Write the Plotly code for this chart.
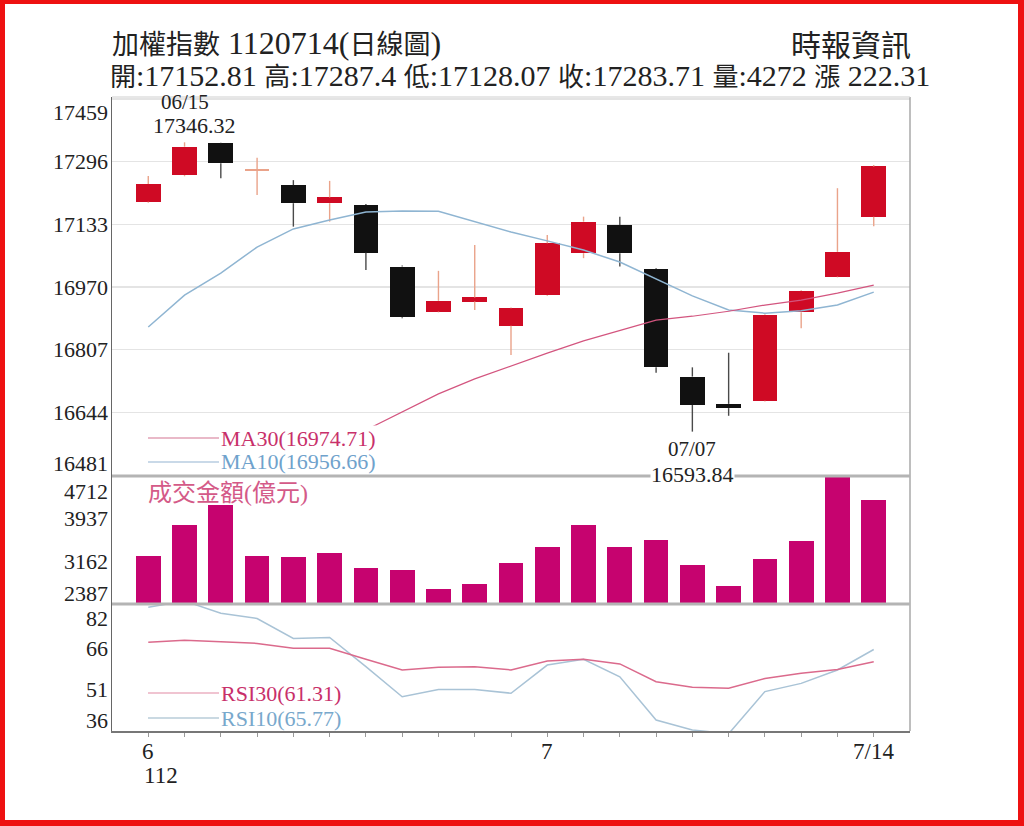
import plotly.graph_objects as go

# ---------------- data ----------------
dates = ["06/14", "06/15", "06/16", "06/19", "06/20", "06/21", "06/26", "06/27", "06/28", "06/29",
         "06/30", "07/03", "07/04", "07/05", "07/06", "07/07", "07/10", "07/11", "07/12", "07/13", "07/14"]
open_ = [17192, 17261, 17344, 17273, 17235, 17188, 17183, 17023, 16906, 16932,
         16869, 16949, 17058, 17131, 17017, 16737, 16666, 16674, 16904, 16997, 17152.81]
high = [17259, 17346.32, 17345, 17306, 17248, 17246, 17186, 17026, 17012, 17079,
        16917, 17105, 17153, 17153, 17019, 16761, 16799, 16899, 16962, 17227, 17287.4]
low = [17189, 17258, 17253, 17209, 17127, 17140, 17014, 16889, 16904, 16910,
       16793, 16947, 17045, 17023, 16747, 16593.84, 16635, 16672, 16863, 16995, 17128.07]
close = [17238, 17335, 17292, 17276, 17188, 17203, 17059, 16891, 16934, 16943,
         16915, 17084, 17140, 17058, 16761, 16663, 16655, 16897, 16960, 17061.40, 17283.71]
ma10 = [16866, 16949, 17006, 17074, 17121, 17144, 17165, 17168, 17167, 17139,
        17113, 17090, 17066, 17035, 16991, 16947, 16910, 16902, 16908, 16923, 16956.66]
ma30 = [None, None, None, None, None, None, 16598, 16645, 16692, 16731,
        16765, 16798, 16830, 16858, 16884, 16894, 16907, 16923, 16936, 16954, 16974.71]
volume = [3259, 3822, 4185, 3259, 3235, 3308, 3035, 2998, 2654, 2745,
          3126, 3428, 3822, 3428, 3549, 3095, 2719, 3199, 3537, 4740, 4272]
rsi30 = [68.4, 69.2, 68.6, 68.0, 66.2, 66.2, 62.2, 58.3, 59.3, 59.5,
         58.3, 61.6, 62.2, 60.5, 54.0, 52.0, 51.6, 55.2, 57.1, 58.5, 61.31]
rsi10 = [81.2, 83.5, 79.0, 77.1, 69.8, 70.2, 59.5, 48.5, 51.2, 51.2,
         49.8, 60.1, 62.2, 55.8, 40.0, 36.4, 35.0, 50.4, 53.4, 58.3, 65.77]

price_ticks = [16481, 16644, 16807, 16970, 17133, 17296, 17459]
vol_ticks = [2387, 3162, 3937, 4712]
rsi_ticks = [36, 51, 66, 82]
x_tick_idx = [0, 11, 20]
x_tick_text = ["6", "7", "7/14"]
year_label = "112"

title_1 = "加權指數 1120714(日線圖)"
title_src = "時報資訊"
title_2 = "開:17152.81 高:17287.4 低:17128.07 收:17283.71 量:4272 漲 222.31"
hi_date, hi_val_text = "06/15", "17346.32"
lo_date, lo_val_text = "07/07", "16593.84"
ma30_label = "MA30(16974.71)"
ma10_label = "MA10(16956.66)"
rsi30_label = "RSI30(61.31)"
rsi10_label = "RSI10(65.77)"
vol_label = "成交金額(億元)"

# ---------------- styling ----------------
W, H = 1024, 826
def fx(p):
    return p / W
def fy(p):
    return 1 - p / H

RED = "#cf0a24"
RED_WICK = "#eaa38a"
BLACK = "#111111"
BLACK_WICK = "#4a4a4a"
MA10_C = "#8fb5d2"
MA30_C = "#d3557f"
VOL_C = "#c6036f"
RSI30_C = "#db6a8c"
RSI10_C = "#a9c3d6"
SERIF = "Liberation Serif, Noto Sans CJK TC, serif"


def mixed(text, cjk_size):
    """Wrap CJK runs in a span with their own font size."""
    out, run, is_cjk = [], "", None
    for ch in text:
        c = ord(ch) > 0x2E80
        if is_cjk is None or c == is_cjk:
            run += ch
        else:
            out.append((is_cjk, run))
            run = ch
        is_cjk = c
    if run:
        out.append((is_cjk, run))
    return "".join(
        f"<span style='font-size:{cjk_size}px'>{r}</span>" if c else r for c, r in out)


n = len(dates)
xs = list(range(n))
up = [c >= o for o, c in zip(open_, close)]

fig = go.Figure()


def wick_xy(cond):
    wx, wy = [], []
    for i in xs:
        if up[i] != cond:
            continue
        top = max(open_[i], close[i])
        bot = min(open_[i], close[i])
        wx += [i, i, None, i, i, None]
        wy += [high[i], top, None, bot, low[i], None]
    return wx, wy


for cond, col in [(True, RED_WICK), (False, BLACK_WICK)]:
    wx, wy = wick_xy(cond)
    fig.add_trace(go.Scatter(x=wx, y=wy, mode="lines", line=dict(color=col, width=1.4),
                             xaxis="x", yaxis="y", hoverinfo="skip"))

body_base = [min(o, c) for o, c in zip(open_, close)]
body_h = [abs(c - o) for o, c in zip(open_, close)]
body_col = [(RED_WICK if body_h[i] < 5 else RED) if up[i] else BLACK for i in xs]
fig.add_trace(go.Bar(x=xs, y=body_h, base=body_base, width=0.68,
                     marker=dict(color=body_col, line=dict(width=0)),
                     xaxis="x", yaxis="y", hoverinfo="skip"))

fig.add_trace(go.Scatter(x=xs, y=ma10, mode="lines", line=dict(color=MA10_C, width=1.5),
                         xaxis="x", yaxis="y", hoverinfo="skip"))
fig.add_trace(go.Scatter(x=xs, y=ma30, mode="lines", line=dict(color=MA30_C, width=1.2),
                         xaxis="x", yaxis="y", hoverinfo="skip"))

fig.add_trace(go.Bar(x=xs, y=volume, width=0.68, marker=dict(color=VOL_C, line=dict(width=0)),
                     xaxis="x2", yaxis="y2", hoverinfo="skip"))

fig.add_trace(go.Scatter(x=xs, y=rsi10, mode="lines", line=dict(color=RSI10_C, width=1.5),
                         xaxis="x3", yaxis="y3", hoverinfo="skip"))
fig.add_trace(go.Scatter(x=xs, y=rsi30, mode="lines", line=dict(color=RSI30_C, width=1.5),
                         xaxis="x3", yaxis="y3", hoverinfo="skip"))

xdom = [fx(112), fx(910)]
xr = [-1, 21]
common_x = dict(domain=xdom, range=xr, showgrid=False, zeroline=False, fixedrange=True)

fig.update_layout(
    width=W, height=H, margin=dict(l=0, r=0, t=0, b=0),
    paper_bgcolor="white", plot_bgcolor="white", showlegend=False,
    barmode="overlay", bargap=0,
    xaxis=dict(anchor="y", showticklabels=False, showline=False, **common_x),
    xaxis2=dict(anchor="y2", matches="x", showticklabels=False, showline=False, **common_x),
    xaxis3=dict(anchor="y3", matches="x", showticklabels=False, showline=True,
                linecolor="#777777", linewidth=1.5, tickvals=xs, ticks="outside",
                ticklen=4, tickcolor="#999999", **common_x),
    yaxis=dict(domain=[fy(476), fy(97)], range=[16478.4, 17464.2], tickvals=price_ticks,
               showticklabels=False, showgrid=True, gridcolor="#e4e4e4", gridwidth=1.2,
               zeroline=False, showline=True, linecolor="#666666", linewidth=1.5),
    yaxis2=dict(domain=[fy(604), fy(476)], range=[2387, 4712], tickvals=vol_ticks,
                showticklabels=False, showgrid=False, zeroline=False,
                showline=True, linecolor="#666666", linewidth=1.5),
    yaxis3=dict(domain=[fy(731), fy(604)], range=[36, 82.4], tickvals=rsi_ticks,
                showticklabels=False, showgrid=False, zeroline=False,
                showline=True, linecolor="#666666", linewidth=1.5),
)

shapes = []
shapes.append(dict(type="line", xref="paper", yref="paper", x0=fx(910), x1=fx(910),
                   y0=fy(97), y1=fy(731), line=dict(color="#a8a8a8", width=1.5)))
shapes.append(dict(type="line", xref="paper", yref="paper", x0=fx(112), x1=fx(910),
                   y0=fy(97), y1=fy(97), line=dict(color="#d0d0d0", width=1.2)))
for py in (476, 604):
    shapes.append(dict(type="line", xref="paper", yref="paper", x0=fx(112), x1=fx(910),
                       y0=fy(py), y1=fy(py), line=dict(color="#b4b4b4", width=3)))
for py, col in [(438, "#e2a2b6"), (462, "#b7cde0"), (693, "#ebb0c2"), (718, "#b9ccd9")]:
    shapes.append(dict(type="line", xref="paper", yref="paper", x0=fx(148), x1=fx(219),
                       y0=fy(py), y1=fy(py), line=dict(color=col, width=1.3)))
BR = "#ee1111"
shapes += [
    dict(type="rect", xref="paper", yref="paper", x0=0, x1=fx(5), y0=0, y1=1, fillcolor=BR, line=dict(width=0)),
    dict(type="rect", xref="paper", yref="paper", x0=fx(1018), x1=1, y0=0, y1=1, fillcolor=BR, line=dict(width=0)),
    dict(type="rect", xref="paper", yref="paper", x0=0, x1=1, y0=fy(4), y1=1, fillcolor=BR, line=dict(width=0)),
    dict(type="rect", xref="paper", yref="paper", x0=0, x1=1, y0=0, y1=fy(820), fillcolor=BR, line=dict(width=0)),
]
fig.update_layout(shapes=shapes)

ann = []


def txt(text, x, y, size=22, color="#222222", xanchor="center", yanchor="middle",
        xref="paper", yref="paper", xshift=0, yshift=0, bg=None):
    d = dict(text=text, x=x, y=y, xref=xref, yref=yref, xanchor=xanchor, yanchor=yanchor,
             showarrow=False, font=dict(family=SERIF, size=size, color=color),
             xshift=xshift, yshift=yshift, borderpad=0)
    if bg:
        d["bgcolor"] = bg
    ann.append(d)


txt(mixed(title_1, 27), fx(111), fy(43), size=32, xanchor="left")
txt(title_src, fx(912), fy(45), size=30, xanchor="right")
txt(mixed(title_2, 26), fx(109), fy(76), size=30, xanchor="left")


def ylabels(ticks, yref, top_shift, bot_shift):
    for i, v in enumerate(ticks):
        s = 0
        if i == 0:
            s = bot_shift
        elif i == len(ticks) - 1:
            s = top_shift
        txt(str(v), fx(109), v, size=22, xanchor="right", yref=yref, yshift=s)


ylabels(price_ticks, "y", -13, 12)
ylabels(vol_ticks, "y2", -15, 11)
ylabels(rsi_ticks, "y3", -13, 11)

for i, t in zip(x_tick_idx, x_tick_text):
    txt(t, i, fy(751), size=23, xref="x3")
txt(year_label, x_tick_idx[0], fy(775), size=23, xref="x3", xshift=13)

hi_i = dates.index(hi_date)
lo_i = dates.index(lo_date)
txt(hi_val_text, hi_i, high[hi_i], size=22, xref="x", yref="y", yanchor="bottom", xshift=10, yshift=3)
txt(hi_date, hi_i, high[hi_i], size=21, xref="x", yref="y", yanchor="bottom", xshift=0, yshift=27)
txt(lo_date, lo_i, low[lo_i], size=21, xref="x", yref="y", yanchor="top", yshift=-4)
txt(lo_val_text, lo_i, low[lo_i], size=22, xref="x", yref="y", yanchor="top", yshift=-29, bg="white")

txt(ma30_label, fx(220), fy(438), size=22, color="#c8306a", xanchor="left", bg="white")
txt(ma10_label, fx(220), fy(462), size=22, color="#6fa2cc", xanchor="left")
txt(vol_label, fx(147), fy(493), size=24, color="#d45a88", xanchor="left")
txt(rsi30_label, fx(220), fy(693), size=22, color="#c8306a", xanchor="left")
txt(rsi10_label, fx(220), fy(718), size=22, color="#78a8cc", xanchor="left")

fig.update_layout(annotations=ann)

fig.write_html("out.html", config={"displayModeBar": False, "staticPlot": True},
               post_script="document.body.style.margin='0';document.body.style.overflow='hidden';")
